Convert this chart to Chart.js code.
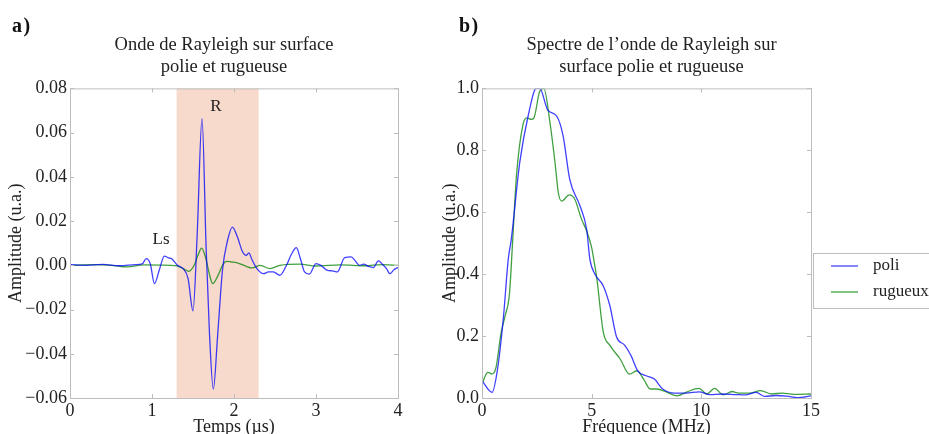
<!DOCTYPE html>
<html>
<head>
<meta charset="utf-8">
<script src="https://cdn.jsdelivr.net/npm/chart.js@4"></script>
<style>
  body { margin: 0; background: #fff; width: 929px; height: 434px; overflow: hidden; position: relative; font-family: "Liberation Serif", serif; }
  canvas { position: absolute; top: 0; }
  #waveChart { left: 0; }
  #specChart { left: 420px; }
  .tag { position: absolute; top: 14px; font-size: 20px; font-weight: bold; letter-spacing: 1.5px; color: #111; }
</style>
</head>
<body>
<canvas id="waveChart" width="460" height="434"></canvas>
<canvas id="specChart" width="509" height="434"></canvas>
<div class="tag" style="left:12px">a)</div>
<div class="tag" style="left:459px">b)</div>
<script>
// --- a) time signals (µs, u.a.) ---
const timePoli = [0, 0.2, 0.4, 0.6, 0.8, 0.88, 0.93, 0.98, 1.03, 1.09, 1.15, 1.20, 1.24, 1.31, 1.38, 1.44, 1.50, 1.55, 1.61, 1.66, 1.70, 1.748, 1.80, 1.86, 1.92, 1.98, 2.04, 2.105, 2.15, 2.18, 2.22, 2.28, 2.36, 2.42, 2.48, 2.56, 2.64, 2.70, 2.76, 2.81, 2.86, 2.92, 3.0, 3.06, 3.14, 3.20, 3.26, 3.35, 3.43, 3.48, 3.53, 3.58, 3.64, 3.70, 3.76, 3.81, 3.86, 3.90, 3.95, 4.0];
const ampPoli = [0.0003, 0, 0.0004, -0.0002, 0.0003, 0.0006, 0.003, 0.0005, -0.0083, -0.002, 0.0042, 0.0034, 0.003, 0, -0.0015, -0.006, -0.0206, 0.013, 0.0663, 0.008, -0.03, -0.056, -0.032, -0.002, 0.011, 0.0173, 0.013, 0.006, 0.0045, 0.0056, 0.0025, -0.0015, -0.0038, -0.003, -0.003, -0.0045, 0, 0.005, 0.008, 0.003, -0.003, -0.004, 0.0008, 0, -0.0023, -0.0025, -0.003, 0.0035, 0.0038, 0.002, 0, 0.0005, -0.0005, -0.001, 0.002, 0.0005, -0.0015, -0.0038, -0.002, -0.001];

const timeRug = [0, 0.3, 0.5, 0.7, 0.9, 1.1, 1.3, 1.38, 1.45, 1.52, 1.56, 1.605, 1.65, 1.70, 1.74, 1.80, 1.86, 1.91, 1.97, 2.03, 2.10, 2.15, 2.22, 2.32, 2.44, 2.56, 2.8, 3.0, 3.3, 3.6, 3.8, 4.0];
const ampRug = [0, 0.0003, 0, -0.0007, 0.0002, 0.0001, -0.0003, -0.0015, -0.0027, 0.0005, 0.0045, 0.0078, 0.004, -0.004, -0.0083, -0.005, 0, 0.0018, 0.0015, 0.0012, 0.0003, -0.0005, -0.0012, 0, -0.0015, 0, 0.0005, -0.0003, 0.0002, -0.0002, 0.0003, 0];

const spanR = [1.3, 2.3];
const waveNotes = [
  { text: 'R', x: 1.78, y: 0.0718 },
  { text: 'Ls', x: 1.11, y: 0.0117 }
];

// --- b) spectra (MHz, u.a.) ---
const freqPoli = [0, 0.46, 0.71, 0.97, 1.2, 1.33, 1.72, 2.1, 2.48, 2.63, 3.0, 3.41, 3.7, 4.0, 4.47, 4.77, 4.92, 5.15, 5.53, 5.83, 6.14, 6.5, 6.8, 7.1, 7.48, 7.86, 8.24, 8.77, 9.3, 9.9, 10.36, 10.97, 11.6, 12.0, 12.5, 12.9, 13.4, 13.9, 14.4, 15];
const specPoli = [0.056, 0.018, 0.094, 0.255, 0.45, 0.51, 0.76, 0.91, 1.0, 1.0, 0.93, 0.91, 0.846, 0.706, 0.62, 0.545, 0.448, 0.40, 0.362, 0.298, 0.196, 0.171, 0.136, 0.088, 0.072, 0.061, 0.029, 0.016, 0.016, 0.02, 0.011, 0.013, 0.011, 0.01, 0.018, 0.005, 0.008, 0.006, 0.001, 0.007];

const freqRug = [0, 0.26, 0.46, 0.64, 0.87, 1.07, 1.25, 1.4, 1.57, 1.87, 2.05, 2.25, 2.37, 2.63, 2.82, 3.1, 3.33, 3.48, 3.63, 3.98, 4.23, 4.54, 4.77, 5.0, 5.08, 5.23, 5.53, 5.84, 6.3, 6.72, 7.06, 7.37, 7.67, 7.97, 8.4, 8.9, 9.35, 9.9, 10.25, 10.6, 11.0, 11.4, 11.7, 12.2, 12.7, 13.2, 13.7, 14.2, 15];
const specRug = [0.045, 0.083, 0.078, 0.099, 0.21, 0.27, 0.335, 0.51, 0.717, 0.884, 0.905, 0.9, 0.905, 0.99, 1.0, 0.889, 0.76, 0.663, 0.636, 0.656, 0.642, 0.577, 0.54, 0.486, 0.454, 0.389, 0.213, 0.169, 0.126, 0.077, 0.088, 0.061, 0.029, 0.029, 0.02, 0.007, 0.02, 0.031, 0.013, 0.031, 0.01, 0.021, 0.016, 0.016, 0.024, 0.013, 0.016, 0.012, 0.013];

const seriesNames = ['poli', 'rugueux'];
const seriesColors = ['rgba(0,0,255,0.75)', 'rgba(0,128,0,0.75)'];

const FONT = '"Liberation Serif", "Times New Roman", serif';
const INK = '#222';

function pairs(xs, ys) {
  return xs.map((x, i) => ({ x: x, y: ys[i] }));
}

function fmt(v, digits) {
  if (Math.abs(v) < 1e-9) v = 0;
  const s = v.toFixed(digits);
  return v < 0 ? '\u2212' + s.slice(1) : s;
}

function lineDataset(label, xs, ys, color) {
  return {
    label: label,
    data: pairs(xs, ys),
    borderColor: color,
    borderWidth: 1.3,
    pointRadius: 0,
    fill: false,
    cubicInterpolationMode: 'monotone'
  };
}

// the titles are not exactly centred over the plots in the original
function titleShift(dx) {
  return {
    id: 'titleShift',
    afterLayout(chart) {
      if (chart.titleBlock) {
        chart.titleBlock.left += dx;
        chart.titleBlock.right += dx;
      }
    }
  };
}

// light grey box round the plot with inward ticks on all four sides
const framePlugin = {
  id: 'frame',
  afterDatasetsDraw(chart) {
    const { ctx, chartArea: a, scales } = chart;
    ctx.save();
    ctx.strokeStyle = '#bdbdbd';
    ctx.lineWidth = 1;
    ctx.strokeRect(a.left + 0.5, a.top + 0.5, a.right - a.left, a.bottom - a.top);
    const len = 4;
    ctx.beginPath();
    scales.x.ticks.forEach(t => {
      const px = Math.round(scales.x.getPixelForValue(t.value)) + 0.5;
      ctx.moveTo(px, a.bottom); ctx.lineTo(px, a.bottom - len);
      ctx.moveTo(px, a.top); ctx.lineTo(px, a.top + len);
    });
    scales.y.ticks.forEach(t => {
      const py = Math.round(scales.y.getPixelForValue(t.value)) + 0.5;
      ctx.moveTo(a.left, py); ctx.lineTo(a.left + len, py);
      ctx.moveTo(a.right, py); ctx.lineTo(a.right - len, py);
    });
    ctx.stroke();
    ctx.restore();
  }
};

// shaded R window and the text notes
const wavePlugin = {
  id: 'waveDecor',
  beforeDatasetsDraw(chart) {
    const { ctx, chartArea: a, scales } = chart;
    const x0 = scales.x.getPixelForValue(spanR[0]);
    const x1 = scales.x.getPixelForValue(spanR[1]);
    ctx.save();
    ctx.fillStyle = '#f7dacb';
    ctx.fillRect(x0, a.top, x1 - x0, a.bottom - a.top);
    ctx.restore();
  },
  afterDatasetsDraw(chart) {
    const { ctx, scales } = chart;
    ctx.save();
    ctx.fillStyle = INK;
    ctx.font = '17px ' + FONT;
    ctx.textAlign = 'center';
    ctx.textBaseline = 'middle';
    waveNotes.forEach(n => {
      ctx.fillText(n.text, scales.x.getPixelForValue(n.x), scales.y.getPixelForValue(n.y));
    });
    ctx.restore();
  }
};

// legend box sitting just right of the spectrum plot
const legendPlugin = {
  id: 'sideLegend',
  afterDraw(chart) {
    const { ctx, chartArea: a } = chart;
    const bx = a.right + 2, by = 253;
    ctx.save();
    ctx.fillStyle = '#fff';
    ctx.fillRect(bx, by, 200, 55);
    ctx.strokeStyle = '#bdbdbd';
    ctx.lineWidth = 1;
    ctx.strokeRect(bx + 0.5, by + 0.5, 200, 55);
    ctx.font = '17px ' + FONT;
    ctx.textBaseline = 'middle';
    seriesNames.forEach((name, i) => {
      const y = by + 13 + i * 26;
      ctx.strokeStyle = seriesColors[i];
      ctx.lineWidth = 1.3;
      ctx.beginPath();
      ctx.moveTo(bx + 18, y); ctx.lineTo(bx + 45, y);
      ctx.stroke();
      ctx.fillStyle = INK;
      ctx.fillText(name, bx + 60, y);
    });
    ctx.restore();
  }
};

function axisOptions(min, max, step, digits, titleText, titlePad, fitSize, isX) {
  return {
    type: 'linear',
    min: min,
    max: max,
    grid: { display: false, drawTicks: false },
    border: { display: false },
    ticks: {
      stepSize: step,
      color: INK,
      font: { family: FONT, size: 18, lineHeight: 1 },
      padding: isX ? 4 : 3,
      maxRotation: 0,
      autoSkip: false,
      callback: v => digits === null ? String(v) : fmt(v, digits)
    },
    title: {
      display: true,
      text: titleText,
      color: INK,
      font: { family: FONT, size: 18, lineHeight: 1 },
      padding: titlePad
    },
    afterFit(scale) {
      if (isX) scale.height = fitSize; else scale.width = fitSize;
    }
  };
}

function titleOptions(lines) {
  return {
    display: true,
    text: lines,
    fullSize: false,
    color: INK,
    font: { family: FONT, size: 18.5, weight: 'normal', lineHeight: 1.2 },
    padding: { top: 34, bottom: 10 }
  };
}

new Chart(document.getElementById('waveChart'), {
  type: 'line',
  data: {
    datasets: [
      lineDataset(seriesNames[0], timePoli, ampPoli, seriesColors[0]),
      lineDataset(seriesNames[1], timeRug, ampRug, seriesColors[1])
    ]
  },
  options: {
    responsive: false,
    animation: false,
    layout: { padding: { left: 0, right: 62, top: 0, bottom: 0 } },
    plugins: {
      legend: { display: false },
      tooltip: { enabled: false },
      title: titleOptions(['Onde de Rayleigh sur surface', 'polie et rugueuse'])
    },
    scales: {
      x: axisOptions(0, 4, 1, null, 'Temps (\u00b5s)', { top: 0, bottom: -2 }, 36, true),
      y: axisOptions(-0.06, 0.08, 0.02, 2, 'Amplitude (u.a.)', { top: 7, bottom: 0 }, 70, false)
    }
  },
  plugins: [titleShift(-10), wavePlugin, framePlugin]
});

new Chart(document.getElementById('specChart'), {
  type: 'line',
  data: {
    datasets: [
      lineDataset(seriesNames[0], freqPoli, specPoli, seriesColors[0]),
      lineDataset(seriesNames[1], freqRug, specRug, seriesColors[1])
    ]
  },
  options: {
    responsive: false,
    animation: false,
    layout: { padding: { left: 0, right: 118, top: 0, bottom: 0 } },
    plugins: {
      legend: { display: false },
      tooltip: { enabled: false },
      title: titleOptions(['Spectre de l\u2019onde de Rayleigh sur', 'surface polie et rugueuse'])
    },
    scales: {
      x: axisOptions(0, 15, 5, null, 'Fr\u00e9quence (MHz)', { top: 0, bottom: -2 }, 36, true),
      y: axisOptions(0, 1, 0.2, 1, 'Amplitude (u.a.)', { top: 21, bottom: 0 }, 62, false)
    }
  },
  plugins: [titleShift(5), framePlugin, legendPlugin]
});
</script>
</body>
</html>
